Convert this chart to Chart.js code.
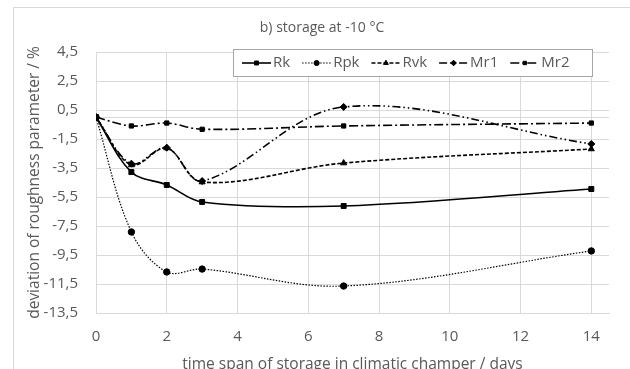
<!DOCTYPE html>
<html><head><meta charset="utf-8">
<script src="https://cdn.jsdelivr.net/npm/chart.js@4.4.0/dist/chart.umd.min.js"></script>
<style>html,body{margin:0;padding:0;background:#fff}canvas{display:block}</style>
</head><body><canvas id="c" width="630" height="369"></canvas>
<script>
// ---- data ----
const days = [0, 1, 2, 3, 7, 14];
const rk  = [0, -3.78, -4.67, -5.84, -6.12, -4.95];
const rpk = [0, -7.91, -10.67, -10.47, -11.64, -9.22];
const rvk = [0, -3.29, -2.12, -4.47, -3.16, -2.19];
const mr1 = [0, -3.2, -2.1, -4.4, 0.71, -1.84];
const mr2 = [0, -0.6, -0.4, -0.83, -0.6, -0.4];
const seriesNames = ['Rk', 'Rpk', 'Rvk', 'Mr1', 'Mr2'];
const yTicks = [-13.5, -11.5, -9.5, -7.5, -5.5, -3.5, -1.5, 0.5, 2.5, 4.5];
const xTicks = [0, 2, 4, 6, 8, 10, 12, 14];
const titleText = 'b) storage at -10 °C';
const yTitle = 'deviation of roughness parameter / %';
const xTitle = 'time span of storage in climatic champer / days';

// ---- styles ----
const FONT = '"Open Sans", sans-serif';
const GRAY = '#595959';
const GRID = '#d9d9d9';
const styles = [
  {dash: [], width: 1.6, point: 'rect', r: 3.5},
  {dash: [1.5, 1.5], width: 1.2, point: 'circle', r: 3.2},
  {dash: [4, 2], width: 1.6, point: 'triangle', r: 3.5},
  {dash: [8, 3, 1.5, 3, 1.5, 3], width: 1.6, point: 'rectRot', r: 3.5},
  {dash: [9, 3, 2, 3], width: 1.6, point: 'rect', r: 3}
];
const values = [rk, rpk, rvk, mr1, mr2];

const datasets = values.map((v, i) => ({
  label: seriesNames[i],
  data: days.map((d, j) => ({x: d, y: v[j]})),
  borderColor: '#000',
  backgroundColor: '#000',
  borderWidth: styles[i].width,
  borderDash: styles[i].dash,
  pointStyle: styles[i].point,
  pointRadius: styles[i].r,
  pointBorderWidth: 1,
  pointBackgroundColor: '#000',
  pointBorderColor: '#000',
  tension: 0.35,
  fill: false
}));

const fmt = v => v.toFixed(1).replace('.', ',');

const decor = {
  id: 'decor',
  beforeDraw(chart) {
    const ctx = chart.ctx;
    ctx.save();
    ctx.fillStyle = '#fff';
    ctx.fillRect(0, 0, chart.width, chart.height);
    ctx.strokeStyle = GRID;
    ctx.lineWidth = 1;
    ctx.strokeRect(13.5, 7.5, 800, 600);
    ctx.restore();
  },
  afterDraw(chart) {
    const ctx = chart.ctx;
    ctx.save();
    ctx.fillStyle = GRAY;
    ctx.font = '14px ' + FONT;
    ctx.textAlign = 'center';
    ctx.textBaseline = 'middle';
    ctx.fillText(titleText, 322, 28);
    // legend
    const bx = 233.5, by = 49.5, bw = 359, bh = 27;
    ctx.fillStyle = '#fff';
    ctx.fillRect(bx, by, bw, bh);
    ctx.strokeStyle = '#a6a6a6';
    ctx.lineWidth = 1;
    ctx.strokeRect(bx, by, bw, bh);
    ctx.font = '15px ' + FONT;
    ctx.textAlign = 'left';
    const cy = by + bh / 2;
    let x = 242;
    chart.data.datasets.forEach((ds, i) => {
      ctx.strokeStyle = '#000';
      ctx.fillStyle = '#000';
      ctx.lineWidth = ds.borderWidth;
      ctx.setLineDash(ds.borderDash);
      ctx.beginPath();
      ctx.moveTo(x, cy);
      ctx.lineTo(x + 29, cy);
      ctx.stroke();
      ctx.setLineDash([]);
      ctx.lineWidth = 1;
      Chart.helpers.drawPoint(ctx, {pointStyle: ds.pointStyle, radius: ds.pointRadius * 0.8, borderWidth: 1, rotation: 0}, x + 14.5, cy);
      ctx.fillStyle = GRAY;
      ctx.fillText(ds.label, x + 31, cy);
      x += 31 + ctx.measureText(ds.label).width + 12;
    });
    ctx.restore();
  }
};

new Chart(document.getElementById('c'), {
  type: 'line',
  data: {datasets},
  plugins: [decor],
  options: {
    responsive: false,
    animation: false,
    devicePixelRatio: 1,
    layout: {padding: {left: 0, right: 21, top: 52, bottom: 0}},
    plugins: {legend: {display: false}, title: {display: false}, tooltip: {enabled: false}},
    scales: {
      x: {
        type: 'linear', min: 0, max: 14.5,
        afterBuildTicks(s) { s.ticks = xTicks.map(v => ({value: v})); },
        afterFit(s) { s.height = 56; },
        grid: {color: GRID, drawTicks: false},
        border: {color: GRID},
        ticks: {color: GRAY, font: {family: FONT, size: 15}, padding: 15, callback: v => String(v)},
        title: {display: true, text: xTitle, color: GRAY, font: {family: FONT, size: 15.5}, padding: {top: 0, bottom: -5}}
      },
      y: {
        type: 'linear', min: -13.5, max: 4.5,
        afterBuildTicks(s) { s.ticks = yTicks.concat([0]).sort((a, b) => a - b).map(v => ({value: v})); },
        afterFit(s) { s.width = 96; },
        grid: {color: GRID, drawTicks: false},
        border: {color: GRID},
        ticks: {color: GRAY, font: {family: FONT, size: 15}, padding: 18, callback: v => (v === 0 ? '' : fmt(v))},
        title: {display: true, text: yTitle, color: GRAY, font: {family: FONT, size: 15.5}, padding: {top: 25, bottom: 0}}
      }
    }
  }
});
</script>
</body></html>
